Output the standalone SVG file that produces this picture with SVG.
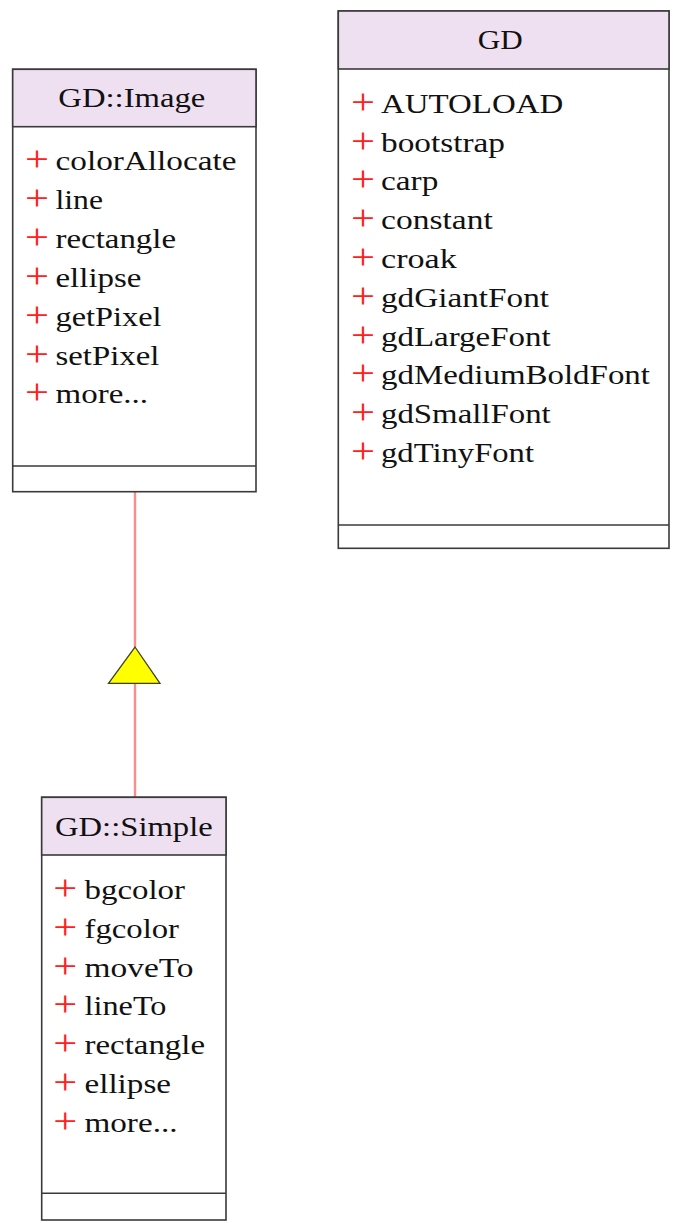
<svg xmlns="http://www.w3.org/2000/svg" width="674" height="1223" viewBox="0 0 674 1223">
<style>
.box{fill:#ffffff;stroke:#3a3a3a;stroke-width:1.6}
.hdr{fill:#efe0f1;stroke:#3a3a3a;stroke-width:1.6}
.sep{stroke:#3a3a3a;stroke-width:1.6;fill:none}
.t{font-family:"Liberation Serif","Times New Roman",serif;font-size:28px;fill:#111}
.p{font-family:"Liberation Serif","Times New Roman",serif;font-size:35px;fill:#ff2020}
.edge{stroke:#ff8c8c;stroke-width:2.4;fill:none}
.tri{fill:#ffff00;stroke:#404020;stroke-width:1.3}
</style>
<rect width="674" height="1223" fill="#ffffff"/>
<g id="connectors">
<line class="edge" x1="135" y1="491.7" x2="135" y2="647"/>
<line class="edge" x1="135" y1="683.3" x2="135" y2="797.3"/>
<polygon class="tri" points="135,647 160,683.3 108.5,683.3"/>
</g>
<g id="node-gd-image">
<rect class="box" x="12.7" y="69.3" width="243.3" height="422.4"/>
<rect class="hdr" x="12.7" y="69.3" width="243.3" height="57.4"/>
<line class="sep" x1="12.7" y1="466" x2="256" y2="466"/>
<text class="t" x="58.3" y="107.3" textLength="147" lengthAdjust="spacingAndGlyphs">GD::Image</text>
<text class="p" x="25" y="171" textLength="24" lengthAdjust="spacingAndGlyphs">+</text>
<text class="t" x="55.5" y="170" textLength="181" lengthAdjust="spacingAndGlyphs">colorAllocate</text>
<text class="p" x="25" y="209.9" textLength="24" lengthAdjust="spacingAndGlyphs">+</text>
<text class="t" x="55.5" y="208.9" textLength="47.5" lengthAdjust="spacingAndGlyphs">line</text>
<text class="p" x="25" y="248.8" textLength="24" lengthAdjust="spacingAndGlyphs">+</text>
<text class="t" x="55.5" y="247.8" textLength="120.5" lengthAdjust="spacingAndGlyphs">rectangle</text>
<text class="p" x="25" y="287.7" textLength="24" lengthAdjust="spacingAndGlyphs">+</text>
<text class="t" x="55.5" y="286.7" textLength="86" lengthAdjust="spacingAndGlyphs">ellipse</text>
<text class="p" x="25" y="326.6" textLength="24" lengthAdjust="spacingAndGlyphs">+</text>
<text class="t" x="55.5" y="325.6" textLength="106" lengthAdjust="spacingAndGlyphs">getPixel</text>
<text class="p" x="25" y="365.5" textLength="24" lengthAdjust="spacingAndGlyphs">+</text>
<text class="t" x="55.5" y="364.5" textLength="104" lengthAdjust="spacingAndGlyphs">setPixel</text>
<text class="p" x="25" y="404.4" textLength="24" lengthAdjust="spacingAndGlyphs">+</text>
<text class="t" x="55.5" y="403.4" textLength="92.5" lengthAdjust="spacingAndGlyphs">more...</text>
</g>
<g id="node-gd">
<rect class="box" x="338.3" y="11" width="330.7" height="537.3"/>
<rect class="hdr" x="338.3" y="11" width="330.7" height="58"/>
<line class="sep" x1="338.3" y1="525" x2="669" y2="525"/>
<text class="t" x="477.7" y="49.3" textLength="45" lengthAdjust="spacingAndGlyphs">GD</text>
<text class="p" x="351" y="113.7" textLength="24" lengthAdjust="spacingAndGlyphs">+</text>
<text class="t" x="381" y="112.7" textLength="182.3" lengthAdjust="spacingAndGlyphs">AUTOLOAD</text>
<text class="p" x="351" y="152.5" textLength="24" lengthAdjust="spacingAndGlyphs">+</text>
<text class="t" x="381" y="151.5" textLength="124" lengthAdjust="spacingAndGlyphs">bootstrap</text>
<text class="p" x="351" y="191.3" textLength="24" lengthAdjust="spacingAndGlyphs">+</text>
<text class="t" x="381" y="190.3" textLength="57.3" lengthAdjust="spacingAndGlyphs">carp</text>
<text class="p" x="351" y="230.1" textLength="24" lengthAdjust="spacingAndGlyphs">+</text>
<text class="t" x="381" y="229.1" textLength="111.7" lengthAdjust="spacingAndGlyphs">constant</text>
<text class="p" x="351" y="268.9" textLength="24" lengthAdjust="spacingAndGlyphs">+</text>
<text class="t" x="381" y="267.9" textLength="75.7" lengthAdjust="spacingAndGlyphs">croak</text>
<text class="p" x="351" y="307.7" textLength="24" lengthAdjust="spacingAndGlyphs">+</text>
<text class="t" x="381" y="306.7" textLength="168" lengthAdjust="spacingAndGlyphs">gdGiantFont</text>
<text class="p" x="351" y="346.5" textLength="24" lengthAdjust="spacingAndGlyphs">+</text>
<text class="t" x="381" y="345.5" textLength="169.7" lengthAdjust="spacingAndGlyphs">gdLargeFont</text>
<text class="p" x="351" y="385.3" textLength="24" lengthAdjust="spacingAndGlyphs">+</text>
<text class="t" x="381" y="384.3" textLength="269" lengthAdjust="spacingAndGlyphs">gdMediumBoldFont</text>
<text class="p" x="351" y="424.1" textLength="24" lengthAdjust="spacingAndGlyphs">+</text>
<text class="t" x="381" y="423.1" textLength="169.7" lengthAdjust="spacingAndGlyphs">gdSmallFont</text>
<text class="p" x="351" y="462.9" textLength="24" lengthAdjust="spacingAndGlyphs">+</text>
<text class="t" x="381" y="461.9" textLength="153" lengthAdjust="spacingAndGlyphs">gdTinyFont</text>
</g>
<g id="node-gd-simple">
<rect class="box" x="41.7" y="797.3" width="184.3" height="422.7"/>
<rect class="hdr" x="41.7" y="797.3" width="184.3" height="57.7"/>
<line class="sep" x1="41.7" y1="1193.3" x2="226" y2="1193.3"/>
<text class="t" x="55" y="835.5" textLength="157.7" lengthAdjust="spacingAndGlyphs">GD::Simple</text>
<text class="p" x="53.3" y="899.7" textLength="24" lengthAdjust="spacingAndGlyphs">+</text>
<text class="t" x="84.5" y="898.7" textLength="100.5" lengthAdjust="spacingAndGlyphs">bgcolor</text>
<text class="p" x="53.3" y="938.6" textLength="24" lengthAdjust="spacingAndGlyphs">+</text>
<text class="t" x="84.5" y="937.6" textLength="94.5" lengthAdjust="spacingAndGlyphs">fgcolor</text>
<text class="p" x="53.3" y="977.5" textLength="24" lengthAdjust="spacingAndGlyphs">+</text>
<text class="t" x="84.5" y="976.5" textLength="109" lengthAdjust="spacingAndGlyphs">moveTo</text>
<text class="p" x="53.3" y="1016.4" textLength="24" lengthAdjust="spacingAndGlyphs">+</text>
<text class="t" x="84.5" y="1015.4" textLength="82" lengthAdjust="spacingAndGlyphs">lineTo</text>
<text class="p" x="53.3" y="1055.3" textLength="24" lengthAdjust="spacingAndGlyphs">+</text>
<text class="t" x="84.5" y="1054.3" textLength="120.5" lengthAdjust="spacingAndGlyphs">rectangle</text>
<text class="p" x="53.3" y="1094.2" textLength="24" lengthAdjust="spacingAndGlyphs">+</text>
<text class="t" x="84.5" y="1093.2" textLength="86.5" lengthAdjust="spacingAndGlyphs">ellipse</text>
<text class="p" x="53.3" y="1133.1" textLength="24" lengthAdjust="spacingAndGlyphs">+</text>
<text class="t" x="84.5" y="1132.1" textLength="93" lengthAdjust="spacingAndGlyphs">more...</text>
</g>
</svg>
